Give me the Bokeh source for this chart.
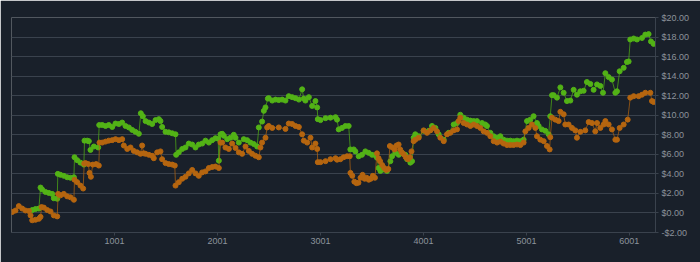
from bokeh.plotting import figure
from bokeh.models import Range1d, FixedTicker, CustomJSTickFormatter
from bokeh.embed import file_html
from bokeh.resources import INLINE

# ---- data ----
green_x = [201, 233, 266, 282, 298, 330, 363, 395, 411, 444, 450, 476, 508, 541, 573, 606,
           612, 638, 670, 703, 709, 735, 751, 767, 800, 842, 852, 881, 913, 945, 978, 1010,
           1043, 1075, 1107, 1140, 1172, 1204, 1237, 1256, 1276, 1302, 1334, 1366, 1399, 1431,
           1447, 1463, 1496, 1528, 1561, 1593, 1599, 1625, 1658, 1690, 1722, 1755, 1787, 1819,
           1852, 1884, 1917, 1949, 1981, 2007, 2014, 2030, 2046, 2062, 2095, 2127, 2159, 2176,
           2208, 2256, 2289, 2321, 2354, 2386, 2402, 2434, 2451, 2467, 2490, 2499, 2532, 2564,
           2596, 2629, 2661, 2693, 2726, 2758, 2791, 2823, 2839, 2855, 2888, 2920, 2952, 2969,
           2975, 3001, 3050, 3098, 3147,
           3162, 3178, 3210, 3243, 3275, 3291, 3324, 3340, 3372, 3404, 3437, 3469, 3502, 3534,
           3550, 3566, 3583, 3615, 3647, 3680, 3696, 3728, 3761, 3793, 3825, 3842, 3874, 3890,
           3906, 3922, 3955, 4003, 4052, 4084, 4117, 4149, 4198, 4246, 4295, 4327, 4359, 4392,
           4424, 4457, 4489, 4521, 4570, 4602, 4618, 4651, 4683, 4716, 4748, 4780, 4813, 4845,
           4877, 4910, 4942, 4974, 5007, 5039, 5071, 5104, 5120, 5152, 5185, 5217, 5233, 5250,
           5266, 5298, 5331, 5363, 5395, 5428, 5460, 5492, 5525, 5557, 5589, 5622, 5654, 5687,
           5719, 5745, 5768, 5800, 5832, 5865, 5881, 5907, 5946, 5978, 5994, 6010, 6043, 6075,
           6124, 6156, 6188, 6211, 6237]
green_y = [0.3, 0.4, 0.45, 2.6, 2.4, 2.15, 2.05, 1.95, 1.5, 1.45, 4.0, 3.9, 3.8, 3.65, 3.6, 3.65,
           5.7, 5.4, 5.15, 4.95, 7.4, 7.4, 7.35, 6.45, 6.8, 6.7, 9.0, 9.0, 8.9, 9.0, 8.8, 9.15,
           9.1, 9.25, 8.9, 8.75, 8.5, 8.3, 8.1, 10.2, 9.9, 9.4, 9.25, 9.1, 9.5, 9.6,
           9.4, 8.8, 8.3, 8.25, 8.15, 8.05, 5.95, 6.2, 6.55, 6.7, 7.1, 7.0, 6.7, 7.0,
           7.1, 7.4, 7.2, 7.45, 7.65, 7.6, 5.35, 8.05, 8.1, 7.9, 7.55, 7.7, 8.0, 7.7,
           7.2, 7.55, 7.45, 7.2, 7.05, 6.8, 8.75, 9.35, 10.45, 10.8, 11.7, 11.75, 11.5, 11.6,
           11.55, 11.6, 11.5, 11.95, 11.85, 11.75, 11.6, 12.65, 11.7, 11.5, 11.85, 10.95, 11.45, 10.8,
           9.6, 9.5, 9.7, 9.75, 9.8,
           9.55, 8.55, 8.7, 8.9, 8.9, 6.5, 6.5, 6.3, 5.8, 5.95, 6.3, 6.15, 5.95, 5.9,
           5.65, 4.6, 4.3, 4.45, 4.3, 5.3, 5.8, 6.15, 5.95, 6.15, 5.95, 5.5, 5.15, 5.3,
           7.7, 8.05, 7.85, 8.4, 8.4, 8.9, 8.7, 8.05, 7.5, 8.2, 9.05, 9.2, 10.05, 9.75,
           9.55, 9.45, 9.4, 9.4, 9.2, 9.05, 8.9, 8.2, 7.85, 7.7, 7.85, 7.5, 7.4, 7.4,
           7.35, 7.4, 7.35, 7.5, 9.4, 9.55, 9.9, 9.2, 8.9, 8.55, 8.4, 8.05, 9.9, 12.05,
           12.05, 11.8, 12.85, 12.3, 11.45, 11.5, 12.6, 12.1, 12.45, 12.5, 13.4, 13.2, 12.6, 13.15,
           13.0, 12.3, 14.3, 13.9, 13.65, 12.3, 12.45, 14.5, 14.85, 15.45, 15.5, 17.75, 17.85, 17.75,
           17.9, 18.25, 18.3, 17.55, 17.3]

orange_x = [7, 39, 71, 104, 136, 169, 185, 201, 233, 266, 282, 292, 314, 347, 379, 411, 444,
            453, 476, 508, 541, 573, 606, 612, 638, 670, 696, 706, 719, 745, 758, 771, 790, 822,
            848, 855, 881, 913, 945, 978, 1010, 1043, 1075, 1091, 1124, 1156, 1188, 1221, 1253,
            1269, 1285, 1302, 1334, 1366, 1382, 1415, 1447, 1463, 1496, 1528, 1561, 1586, 1593,
            1625, 1658, 1690, 1722, 1755, 1787, 1819, 1852, 1884, 1917, 1949, 1981, 2014, 2030,
            2046, 2078, 2111, 2143, 2176, 2208, 2240, 2273, 2305, 2337, 2370, 2402, 2418, 2434,
            2467, 2483, 2499, 2532, 2596, 2661, 2693, 2726, 2758, 2791, 2823, 2839, 2872, 2904,
            2920, 2952, 2969, 2975, 3001, 3050, 3098, 3147,
            3162, 3194, 3226, 3259, 3285, 3292, 3310, 3330, 3350, 3370, 3390, 3410, 3430, 3450,
            3470, 3490, 3510, 3530, 3550, 3565, 3580, 3600, 3620, 3640, 3660, 3675, 3700, 3720,
            3740, 3760, 3775, 3790, 3810, 3830, 3850, 3870, 3885,
            3906, 3922, 3955, 4003, 4036, 4068, 4100, 4133, 4165, 4198, 4230, 4262, 4295, 4327,
            4343, 4359, 4392, 4424, 4457, 4489, 4521, 4554, 4586, 4618, 4651, 4683, 4716, 4748,
            4780, 4813, 4845, 4877, 4910, 4942, 4974, 4991, 5023, 5055, 5088, 5104, 5136, 5169,
            5201, 5227, 5233, 5250, 5282, 5314, 5331, 5363, 5379, 5411, 5444, 5476, 5492, 5525,
            5573, 5606, 5638, 5670, 5687, 5719, 5751, 5768, 5800, 5832, 5865, 5881, 5907, 5946,
            5985, 6010, 6043, 6091, 6124, 6156, 6205, 6221, 6237]
orange_y = [0.1, 0.25, 0.7, 0.45, 0.25, 0.2, -0.25, -0.75, -0.7, -0.6, -0.4, 0.6, 0.55, 0.3, 0.15, -0.25, -0.35,
            1.95, 1.8, 1.95, 1.7, 1.6, 1.35, 3.4, 3.15, 2.8, 2.5, 5.05, 5.1, 5.0, 4.1, 3.7, 4.95, 5.0,
            4.85, 7.2, 7.2, 7.3, 7.4, 7.45, 7.55, 7.45, 7.55, 6.9, 6.55, 6.7, 6.35, 6.2, 6.05,
            6.9, 6.1, 6.05, 5.95, 5.85, 5.6, 6.2, 6.3, 5.5, 5.1, 5.0, 4.95, 4.85, 2.8,
            3.15, 3.5, 3.7, 4.05, 4.4, 4.05, 3.8, 4.15, 4.25, 4.6, 4.7, 4.75, 4.6, 7.2,
            7.2, 6.7, 6.55, 7.1, 6.65, 6.2, 6.05, 6.8, 6.35, 6.05, 5.85, 5.7, 6.7, 7.2,
            7.7, 8.75, 8.9, 8.7, 8.75, 8.6, 9.15, 9.1, 8.9, 8.8, 8.05, 7.4, 7.2, 7.7,
            6.7, 7.1, 6.55, 5.2, 5.2, 5.3, 5.5, 5.6,
            5.45, 5.5, 5.7, 5.8, 5.8, 4.1, 3.8, 3.2, 3.05, 3.1, 3.6, 3.9, 3.5, 3.6,
            3.4, 3.5, 3.8, 3.6, 6.1, 5.6, 5.3, 4.9, 4.6, 4.4, 4.5, 6.85, 6.7, 6.5,
            6.9, 7.0, 6.5, 6.2, 6.0, 5.7, 5.5, 5.7, 6.3,
            7.35, 7.5, 7.7, 8.45, 8.2, 8.45, 8.7, 8.35, 7.7, 7.35, 8.05, 8.2, 8.45, 8.55,
            9.4, 9.75, 9.2, 9.05, 8.9, 9.05, 8.9, 8.7, 8.35, 8.2, 7.85, 7.35, 7.2, 7.3,
            7.1, 6.95, 6.95, 6.95, 7.0, 6.95, 7.2, 8.35, 8.7, 9.05, 8.7, 7.85, 7.5, 7.35,
            6.85, 6.5, 7.75, 9.75, 9.55, 9.4, 10.35, 10.1, 9.05, 9.05, 8.7, 8.45, 7.7, 8.3,
            8.45, 9.3, 9.2, 8.35, 9.2, 8.7, 9.05, 9.4, 9.05, 8.55, 7.5, 7.5, 8.7, 9.05,
            9.55, 11.8, 11.95, 11.95, 12.1, 12.3, 12.3, 11.45, 11.35]

x_ticks = [1001, 2001, 3001, 4001, 5001, 6001]
y_ticks = [-2, 0, 2, 4, 6, 8, 10, 12, 14, 16, 18, 20]

# ---- styles ----
BG = "#19202a"
GRID = "#3a424d"
TEXT = "#8c939b"
GREEN = "#52b216"
ORANGE = "#b5650f"

p = figure(width=700, height=262, x_range=Range1d(0, 6255), y_range=Range1d(-2, 20),
           output_backend="svg", toolbar_location=None, y_axis_location="right",
           background_fill_color=BG, border_fill_color=BG,
           min_border_left=11, min_border_right=45, min_border_top=17, min_border_bottom=30)
p.outline_line_color = None

p.line(green_x, green_y, line_color=GREEN, line_width=1, line_alpha=0.7)
p.scatter(green_x, green_y, size=5, fill_color=GREEN, line_color=GREEN)
p.line(orange_x, orange_y, line_color=ORANGE, line_width=1, line_alpha=0.7)
p.scatter(orange_x, orange_y, size=5, fill_color=ORANGE, line_color=ORANGE)

p.xgrid.visible = False
p.ygrid.ticker = FixedTicker(ticks=y_ticks)
p.ygrid.grid_line_color = GRID
p.ygrid.grid_line_width = 1

xa = p.xaxis[0]
xa.ticker = FixedTicker(ticks=x_ticks)
xa.axis_line_color = GRID
xa.major_tick_line_color = GRID
xa.major_tick_out = 3
xa.major_tick_in = 0
xa.minor_tick_line_color = None
xa.major_label_text_color = TEXT
xa.major_label_text_font = "Liberation Sans"
xa.major_label_text_font_size = "9px"
xa.major_label_standoff = 2

ya = p.yaxis[0]
ya.ticker = FixedTicker(ticks=y_ticks)
ya.formatter = CustomJSTickFormatter(code="return (tick < 0 ? '-' : '') + '$' + Math.abs(tick).toFixed(2);")
ya.axis_line_color = GRID
ya.major_tick_line_color = GRID
ya.major_tick_out = 3
ya.major_tick_in = 0
ya.minor_tick_line_color = None
ya.major_label_text_color = TEXT
ya.major_label_text_font = "Liberation Sans"
ya.major_label_text_font_size = "9px"
ya.major_label_standoff = 3

open("out.html", "w").write(file_html(p, INLINE))
